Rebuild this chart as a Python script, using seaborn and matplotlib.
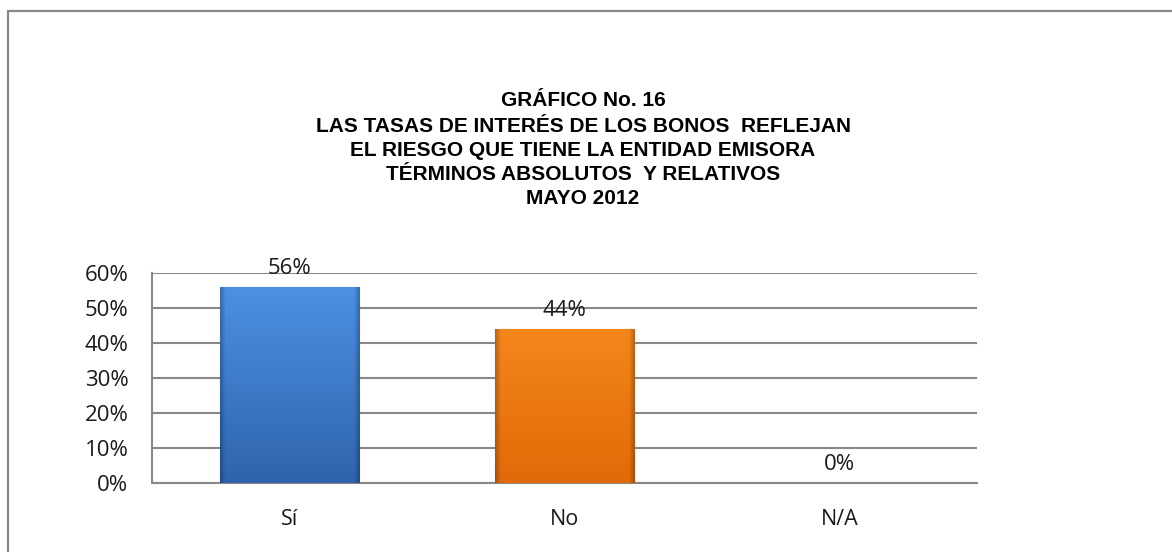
import numpy as np
import pandas as pd
import matplotlib
matplotlib.use("Agg")
import matplotlib.pyplot as plt
from matplotlib.lines import Line2D
from matplotlib.colors import LinearSegmentedColormap
import seaborn as sns

categories = ["Sí", "No", "N/A"]
values = [0.56, 0.44, 0.0]
y_ticks = [0, 0.1, 0.2, 0.3, 0.4, 0.5, 0.6]
y_tick_labels = ["0%", "10%", "20%", "30%", "40%", "50%", "60%"]
bar_colors = ["#3F7ACB", "#F0780F", "#9BBB59"]
title_lines = ["GRÁFICO No. 16",
               "LAS TASAS DE INTERÉS DE LOS BONOS  REFLEJAN",
               "EL RIESGO QUE TIENE LA ENTIDAD EMISORA",
               "TÉRMINOS ABSOLUTOS  Y RELATIVOS",
               "MAYO 2012"]

sns.set_theme(style="white")
plt.rcParams['font.family'] = ['Open Sans', 'DejaVu Sans']

df = pd.DataFrame({"cat": categories, "val": values})

fig = plt.figure(figsize=(11.72, 5.52), dpi=100)
ax = fig.add_axes([152/1172, 1-483/552, (977-152)/1172, (483-273)/552])

sns.barplot(data=df, x="cat", y="val", hue="cat", palette=bar_colors,
            width=0.507, legend=False, ax=ax, saturation=1, zorder=3)

ax.set_ylim(0, 0.6)
ax.set_xlim(-0.5, 2.5)
ax.set_yticks(y_ticks)
ax.set_yticklabels(y_tick_labels, fontsize=16, color="#1a1a1a")
ax.set_xticks([0, 1, 2])
ax.set_xticklabels(categories, fontsize=15.5, color="#1a1a1a")
ax.set_xlabel("")
ax.set_ylabel("")

# boundary ticks on x axis
ax.set_xticks([-0.5, 0.5, 1.5, 2.5], minor=True)
ax.tick_params(axis="x", which="major", length=0, pad=19)
ax.tick_params(axis="x", which="minor", length=6, width=1.5, color="#888888", direction="out")
ax.tick_params(axis="y", length=7, width=1.5, color="#888888", direction="out", pad=10)

ax.grid(axis="y", color="#888888", linewidth=1.5, zorder=0)
ax.set_axisbelow(True)
for s in ["top", "right"]:
    ax.spines[s].set_visible(False)
for s in ["left", "bottom"]:
    ax.spines[s].set_color("#888888")
    ax.spines[s].set_linewidth(1.5)

# gradient fills on bars (vertical gradient + darker side shading)
grad_pairs = [("#4C90E2", "#2F64AC"), ("#F5861C", "#E06A08"), ("#9BBB59", "#9BBB59")]
for patch, (c1, c2) in zip(ax.patches, grad_pairs):
    bb = patch.get_bbox()
    if bb.height <= 0:
        continue
    cmap = LinearSegmentedColormap.from_list("g", [c2, c1])
    grad = np.linspace(0, 1, 256).reshape(-1, 1)
    im = ax.imshow(grad, extent=[bb.x0, bb.x1, bb.y0, bb.y1], origin="lower",
                   cmap=cmap, aspect="auto", zorder=3.5)
    im.set_clip_path(patch)
    # bevel: darken edges horizontally
    xs = np.linspace(0, 1, 200)
    edge = np.clip(1 - np.minimum(xs, 1 - xs) / 0.04, 0, 1) * 0.25
    shade = np.zeros((1, 200, 4))
    shade[0, :, 3] = edge
    im2 = ax.imshow(shade, extent=[bb.x0, bb.x1, bb.y0, bb.y1], origin="lower",
                    aspect="auto", zorder=3.6)
    im2.set_clip_path(patch)
    patch.set_edgecolor((0, 0, 0, 0.15))
    patch.set_linewidth(1.0)
ax.set_xlim(-0.5, 2.5)
ax.set_ylim(0, 0.6)

for container in ax.containers:
    ax.bar_label(container, fmt=lambda v: f"{v*100:.0f}%", padding=6,
                 fontsize=16, color="#1a1a1a", zorder=5)
for p in ax.patches:
    if p.get_height() <= 0:
        p.set_visible(False)

# title
tfam = ["Liberation Sans", "DejaVu Sans"]
ys = [101, 127, 151, 175, 199]
for line, yy in zip(title_lines, ys):
    fig.text(0.4975, 1-yy/552, line, ha="center", va="center", fontsize=15,
             fontweight="bold", family=tfam, color="#000000")

# frame lines (left and top only)
fig.add_artist(Line2D([7.5/1172, 7.5/1172], [0, 1-10.5/552], transform=fig.transFigure,
                      color="#888888", linewidth=1.6))
fig.add_artist(Line2D([7.5/1172, 1], [1-10.5/552, 1-10.5/552], transform=fig.transFigure,
                      color="#888888", linewidth=1.6))

fig.savefig("out.png", dpi=100)
